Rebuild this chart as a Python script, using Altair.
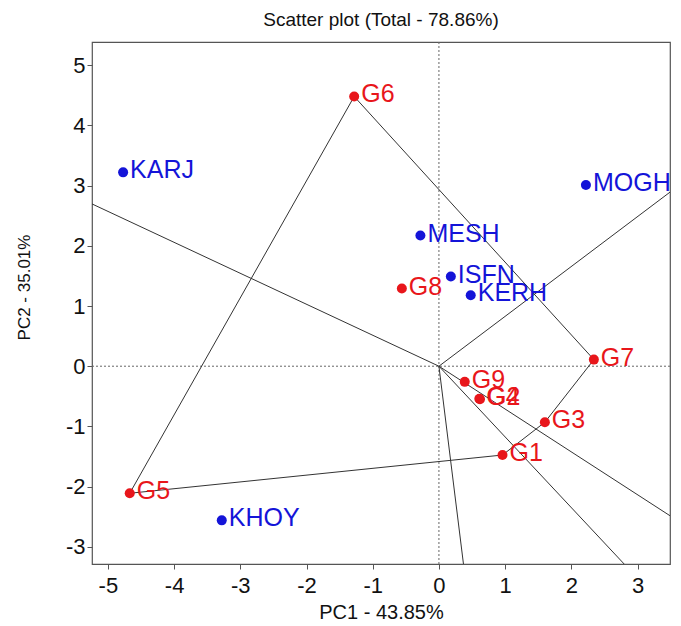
import altair as alt
import pandas as pd

# Genotype scores (PC1, PC2)
gen_names = ["G1", "G2", "G3", "G4", "G5", "G6", "G7", "G8", "G9"]
gen_pc1 = [0.96, 0.62, 1.60, 0.61, -4.67, -1.28, 2.34, -0.56, 0.39]
gen_pc2 = [-1.475, -0.55, -0.93, -0.54, -2.11, 4.48, 0.11, 1.29, -0.26]

# Environment scores (PC1, PC2)
env_names = ["KARJ", "MOGH", "MESH", "ISFN", "KERH", "KHOY"]
env_pc1 = [-4.77, 2.22, -0.28, 0.18, 0.48, -3.28]
env_pc2 = [3.22, 3.01, 2.17, 1.49, 1.18, -2.56]

# Convex hull (which-won-where polygon) vertices, in order
hull = ["G6", "G7", "G3", "G1", "G5"]

X_DOM = [-5.24, 3.49]
Y_DOM = [-3.285, 5.385]
X_TICKS = [-5, -4, -3, -2, -1, 0, 1, 2, 3]
Y_TICKS = [-3, -2, -1, 0, 1, 2, 3, 4, 5]

RED = "#E8161B"
BLUE = "#1414D8"
FONT = "Liberation Sans"

gen = pd.DataFrame({"name": gen_names, "x": gen_pc1, "y": gen_pc2})
env = pd.DataFrame({"name": env_names, "x": env_pc1, "y": env_pc2})
pos = {n: (a, b) for n, a, b in zip(gen_names, gen_pc1, gen_pc2)}

# polygon path
poly_rows = []
for i, n in enumerate(hull + [hull[0]]):
    poly_rows.append({"x": pos[n][0], "y": pos[n][1], "o": i})
poly = pd.DataFrame(poly_rows)

# rays from origin perpendicular to each polygon side, extended to the frame
ray_rows = []
for i in range(len(hull)):
    (x1, y1), (x2, y2) = pos[hull[i]], pos[hull[(i + 1) % len(hull)]]
    dx, dy = x2 - x1, y2 - y1
    t = -(x1 * dx + y1 * dy) / (dx * dx + dy * dy)
    fx, fy = x1 + t * dx, y1 + t * dy  # foot of perpendicular
    ts = []
    if fx > 0:
        ts.append(X_DOM[1] / fx)
    elif fx < 0:
        ts.append(X_DOM[0] / fx)
    if fy > 0:
        ts.append(Y_DOM[1] / fy)
    elif fy < 0:
        ts.append(Y_DOM[0] / fy)
    s = min(ts)
    ray_rows.append({"x": 0.0, "y": 0.0, "x2": fx * s, "y2": fy * s})
rays = pd.DataFrame(ray_rows)

xs = alt.Scale(domain=X_DOM, nice=False, zero=False)
ys = alt.Scale(domain=Y_DOM, nice=False, zero=False)

xaxis = alt.Axis(values=X_TICKS, title="PC1 - 43.85%", labelPadding=6,
                 labelExpr="datum.value + ''",
                 titleFontSize=20, titleFont=FONT, titleFontWeight="normal",
                 titleBaseline="alphabetic", titleY=54, titleColor="#111")
yaxis = alt.Axis(values=Y_TICKS, title="PC2 - 35.01%", labelPadding=2,
                 labelExpr="datum.value + ''",
                 titleFontSize=17, titleFont=FONT, titleFontWeight="normal",
                 titleAngle=270, titleAlign="center", titleBaseline="middle",
                 titleX=-68, titleY=245, titleColor="#111")

base_x = alt.X("x:Q", scale=xs, axis=xaxis)
base_y = alt.Y("y:Q", scale=ys, axis=yaxis)

zero_lines = pd.DataFrame({"v": [0.0]})
vline = alt.Chart(zero_lines).mark_rule(color="#666", strokeDash=[2, 2], strokeWidth=1).encode(
    x=alt.X("v:Q", scale=xs, axis=xaxis))
hline = alt.Chart(zero_lines).mark_rule(color="#666", strokeDash=[2, 2], strokeWidth=1).encode(
    y=alt.Y("v:Q", scale=ys, axis=yaxis))

ray_layer = alt.Chart(rays).mark_rule(color="#333", strokeWidth=1).encode(
    x=base_x, y=base_y, x2="x2:Q", y2="y2:Q")

poly_layer = alt.Chart(poly).mark_line(color="#333", strokeWidth=1).encode(
    x=base_x, y=base_y, order="o:Q")

gen_pts = alt.Chart(gen).mark_circle(size=100, color=RED, opacity=1).encode(x=base_x, y=base_y)
env_pts = alt.Chart(env).mark_circle(size=100, color=BLUE, opacity=1).encode(x=base_x, y=base_y)

gen_txt = alt.Chart(gen).mark_text(align="left", baseline="middle", dx=7, dy=-2,
                                   fontSize=25, font=FONT, color=RED).encode(
    x=base_x, y=base_y, text="name:N")
env_txt = alt.Chart(env).mark_text(align="left", baseline="middle", dx=7, dy=-2,
                                   fontSize=25, font=FONT, color=BLUE).encode(
    x=base_x, y=base_y, text="name:N")

chart = alt.layer(
    vline, hline, ray_layer, poly_layer, gen_pts, env_pts, gen_txt, env_txt
).properties(
    width=578, height=522,
    title=alt.TitleParams("Scatter plot (Total - 78.86%)", fontSize=19, font=FONT,
                          fontWeight="normal", anchor="middle", frame="group",
                          baseline="alphabetic", offset=18, dy=21, color="#111"),
    padding={"left": 84, "top": 34, "right": 3, "bottom": 60},
    autosize=alt.AutoSizeParams(type="none"),
).configure_view(
    stroke="#555", strokeWidth=1.2
).configure_axis(
    grid=False, domain=False, tickColor="#555", tickSize=5,
    labelFont=FONT, labelFontSize=22, labelColor="#111",
)

chart.save("out.html", embed_options={"renderer": "svg", "actions": False})
